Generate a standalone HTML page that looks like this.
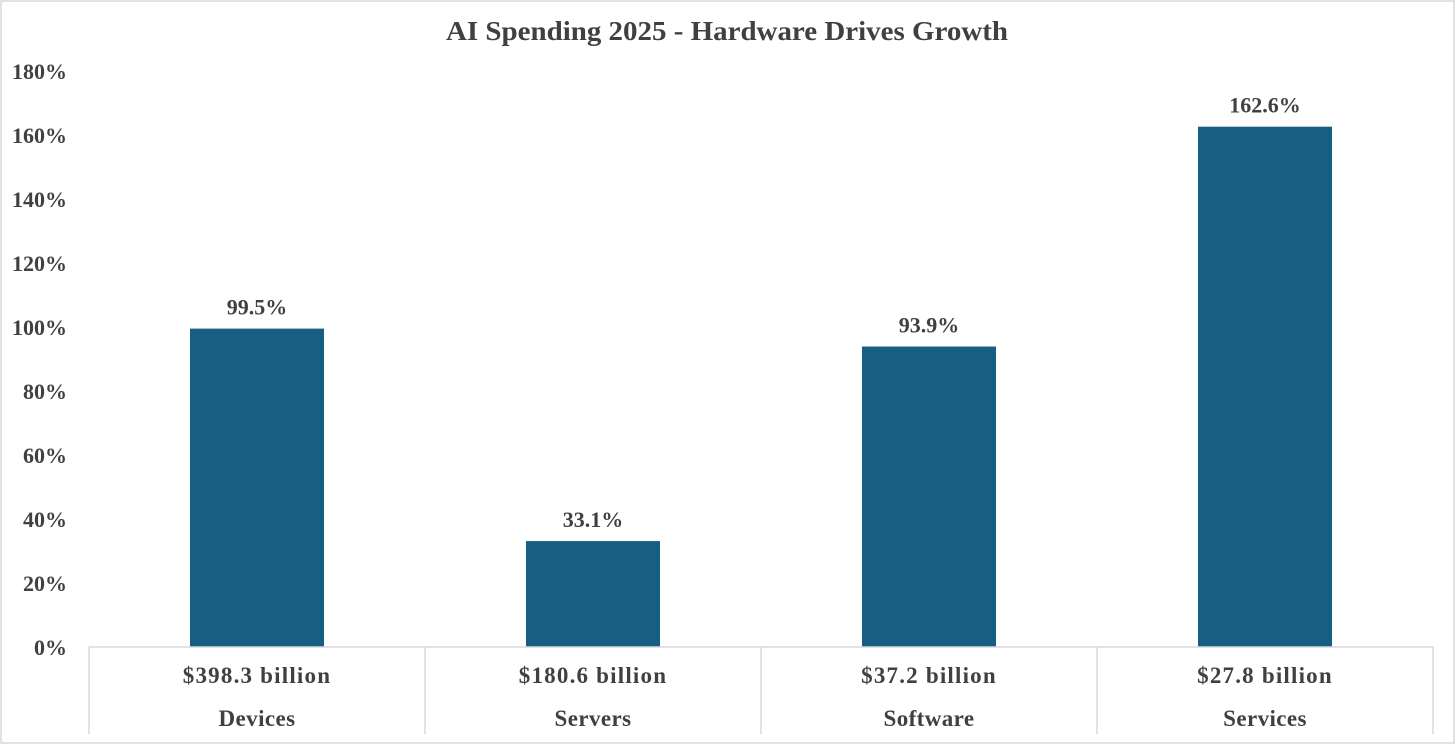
<!DOCTYPE html>
<html><head><meta charset="utf-8"><style>
html,body{margin:0;padding:0;background:#fff;}
svg{display:block;}
text{font-family:"Liberation Serif",serif;font-weight:bold;fill:#404040;}
</style></head><body>
<svg id="chart" width="1456" height="747" viewBox="0 0 1456 747">
<rect x="1" y="1" width="1453" height="742" fill="#fff" stroke="#d9d9d9" stroke-width="1.5"/>
<text x="727" y="40" text-anchor="middle" font-size="27" textLength="562" lengthAdjust="spacingAndGlyphs">AI Spending 2025 - Hardware Drives Growth</text>
<g id="yaxis"></g>
<g id="bars"></g>
<g id="xaxis"></g>
</svg>
<script>
const categories=["Devices","Servers","Software","Services"];
const spending=["$398.3 billion","$180.6 billion","$37.2 billion","$27.8 billion"];
const growth=[99.5,33.1,93.9,162.6];
const yTicks=[0,20,40,60,80,100,120,140,160,180];

const NS="http://www.w3.org/2000/svg";
const plotL=89,plotR=1433,y0=647,yTop=71,yMax=180;
const y=v=>y0-(v/yMax)*(y0-yTop);
const band=(plotR-plotL)/categories.length;
const xc=i=>plotL+band*(i+0.5);
const barW=134;
function mk(tag,attrs,parent){const e=document.createElementNS(NS,tag);for(const k in attrs)e.setAttribute(k,attrs[k]);parent.appendChild(e);return e;}
const ya=document.getElementById('yaxis'),bg=document.getElementById('bars'),xa=document.getElementById('xaxis');
yTicks.forEach(t=>{
  const tx=mk('text',{x:67,y:y(t)+8,'text-anchor':'end','font-size':22},ya);
  tx.textContent=t+'%';
  
  
});
growth.forEach((v,i)=>{
  const r=mk('rect',{x:xc(i)-barW/2,y:y(v),width:barW,height:y0-y(v),fill:'#175f82'},bg);
  
  
  const l=mk('text',{x:xc(i),y:y(v)-14,'text-anchor':'middle','font-size':22},bg);
  l.textContent=v.toFixed(1)+'%';
  
  
});
const ax=mk('line',{x1:plotL,x2:plotR,y1:y0,y2:y0,stroke:'#d9d9d9','stroke-width':1.5},xa);


for(let i=0;i<=categories.length;i++){
  const d=mk('line',{x1:plotL+band*i,x2:plotL+band*i,y1:y0,y2:734,stroke:'#d9d9d9','stroke-width':1.5},xa);
  
  
}
categories.forEach((c,i)=>{
  const s=mk('text',{x:xc(i),y:683,'text-anchor':'middle','font-size':23,'letter-spacing':'1.2'},xa);
  s.textContent=spending[i];
  
  
  const n=mk('text',{x:xc(i),y:726,'text-anchor':'middle','font-size':23,'letter-spacing':'0.4'},xa);
  n.textContent=c;
  
  
});
</script>
</body></html>
